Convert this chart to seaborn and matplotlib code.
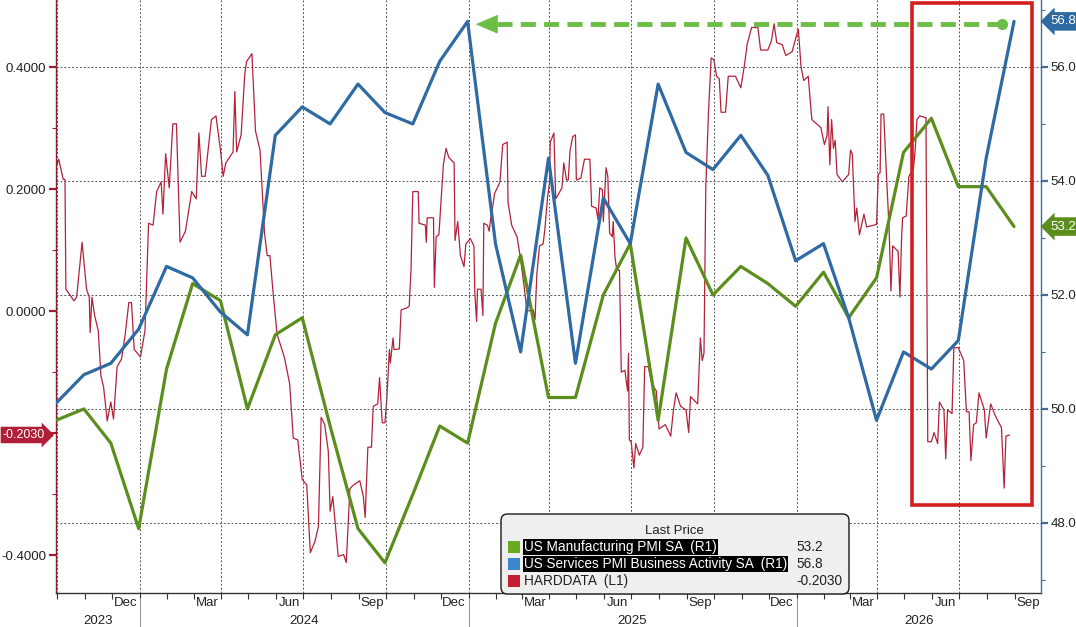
import numpy as np
import pandas as pd
import matplotlib
matplotlib.use("Agg")
import matplotlib.pyplot as plt
import matplotlib.dates as mdates
import matplotlib.transforms as mtransforms
from matplotlib.patches import FancyBboxPatch, Rectangle
import seaborn as sns

# ---------------- data ----------------
pmi_months = pd.date_range("2023-09-30", "2026-08-31", freq="ME")
manufacturing = [49.8, 50.0, 49.4, 47.9, 50.7, 52.2, 51.9, 50.0, 51.3, 51.6, 49.7, 47.9,
                 47.3, 48.5, 49.7, 49.4, 51.5, 52.7, 50.2, 50.2, 52.0, 52.9, 49.8, 53.0,
                 52.0, 52.5, 52.2, 51.8, 52.4, 51.6, 52.3, 54.5, 55.1, 53.9, 53.9, 53.2]
services = [50.1, 50.6, 50.8, 51.4, 52.5, 52.3, 51.7, 51.3, 54.8, 55.3, 55.0, 55.7,
            55.2, 55.0, 56.1, 56.8, 52.9, 51.0, 54.4, 50.8, 53.7, 52.9, 55.7, 54.5,
            54.2, 54.8, 54.1, 52.6, 52.9, 51.6, 49.8, 51.0, 50.7, 51.2, 54.4, 56.8]

hard_dates = [
    "2023-10-01", "2023-10-03", "2023-10-08", "2023-10-10", "2023-10-11", "2023-10-20", "2023-10-23", "2023-10-29",
    "2023-11-03", "2023-11-06", "2023-11-07", "2023-11-09", "2023-11-12", "2023-11-16", "2023-11-19", "2023-11-22",
    "2023-11-26", "2023-11-30", "2023-12-03", "2023-12-07", "2023-12-12", "2023-12-16", "2023-12-20", "2023-12-23",
    "2023-12-26", "2024-01-02", "2024-01-07", "2024-01-11", "2024-01-16", "2024-01-20", "2024-01-25", "2024-01-27",
    "2024-01-30", "2024-02-03", "2024-02-07", "2024-02-11", "2024-02-15", "2024-02-21", "2024-02-28", "2024-03-04",
    "2024-03-07", "2024-03-10", "2024-03-14", "2024-03-21", "2024-03-26", "2024-03-31", "2024-04-03", "2024-04-06",
    "2024-04-14", "2024-04-16", "2024-04-18", "2024-04-23", "2024-04-27", "2024-04-29", "2024-05-05", "2024-05-09",
    "2024-05-14", "2024-05-19", "2024-05-22", "2024-05-25", "2024-05-29", "2024-06-02", "2024-06-10", "2024-06-16",
    "2024-06-20", "2024-06-25", "2024-06-30", "2024-07-05", "2024-07-09", "2024-07-14", "2024-07-18", "2024-07-21",
    "2024-07-25", "2024-07-29", "2024-07-31", "2024-08-03", "2024-08-09", "2024-08-15", "2024-08-18", "2024-08-22",
    "2024-08-26", "2024-09-02", "2024-09-06", "2024-09-08", "2024-09-11", "2024-09-15", "2024-09-17", "2024-09-22",
    "2024-09-24", "2024-09-27", "2024-09-30", "2024-10-02", "2024-10-05", "2024-10-06", "2024-10-09", "2024-10-10",
    "2024-10-16", "2024-10-18", "2024-10-24", "2024-10-27", "2024-10-29", "2024-10-31", "2024-11-06", "2024-11-07",
    "2024-11-14", "2024-11-15", "2024-11-16", "2024-11-23", "2024-11-24", "2024-11-26", "2024-11-29", "2024-11-30",
    "2024-12-04", "2024-12-07", "2024-12-10", "2024-12-16", "2024-12-17", "2024-12-20", "2024-12-23", "2024-12-27",
    "2024-12-29", "2025-01-03", "2025-01-07", "2025-01-08", "2025-01-10", "2025-01-11", "2025-01-15", "2025-01-17",
    "2025-01-18", "2025-01-22", "2025-01-24", "2025-01-26", "2025-01-28", "2025-01-30", "2025-02-02", "2025-02-05",
    "2025-02-08", "2025-02-13", "2025-02-14", "2025-02-18", "2025-02-24", "2025-02-28", "2025-03-04", "2025-03-07",
    "2025-03-14", "2025-03-16", "2025-03-18", "2025-03-21", "2025-03-25", "2025-03-27", "2025-03-30", "2025-04-01",
    "2025-04-02", "2025-04-06", "2025-04-08", "2025-04-15", "2025-04-17", "2025-04-20", "2025-04-22", "2025-04-24",
    "2025-04-27", "2025-04-30", "2025-05-01", "2025-05-06", "2025-05-10", "2025-05-16", "2025-05-18", "2025-05-23",
    "2025-05-25", "2025-05-27", "2025-05-30", "2025-05-31", "2025-06-03", "2025-06-05", "2025-06-07", "2025-06-10",
    "2025-06-11", "2025-06-13", "2025-06-15", "2025-06-18", "2025-06-20", "2025-06-24", "2025-06-27", "2025-06-28",
    "2025-06-29", "2025-07-01", "2025-07-04", "2025-07-06", "2025-07-10", "2025-07-14", "2025-07-16", "2025-07-20",
    "2025-07-24", "2025-07-29", "2025-08-01", "2025-08-08", "2025-08-14", "2025-08-17", "2025-08-20", "2025-08-25",
    "2025-08-31", "2025-09-03", "2025-09-05", "2025-09-13", "2025-09-16", "2025-09-18", "2025-09-20", "2025-09-22",
    "2025-09-25", "2025-09-28", "2025-10-01", "2025-10-04", "2025-10-07", "2025-10-09", "2025-10-14", "2025-10-17",
    "2025-10-25", "2025-10-31", "2025-11-04", "2025-11-07", "2025-11-12", "2025-11-19", "2025-11-22", "2025-11-30",
    "2025-12-04", "2025-12-07", "2025-12-10", "2025-12-16", "2025-12-20", "2025-12-27", "2026-01-01", "2026-01-03",
    "2026-01-06", "2026-01-09", "2026-01-14", "2026-01-18", "2026-01-28", "2026-02-01", "2026-02-04", "2026-02-05",
    "2026-02-07", "2026-02-09", "2026-02-11", "2026-02-13", "2026-02-15", "2026-02-21", "2026-02-28", "2026-03-02",
    "2026-03-04", "2026-03-07", "2026-03-09", "2026-03-12", "2026-03-17", "2026-03-20", "2026-03-31", "2026-04-02",
    "2026-04-04", "2026-04-05", "2026-04-08", "2026-04-11", "2026-04-14", "2026-04-16", "2026-04-18", "2026-04-24",
    "2026-04-26", "2026-04-28", "2026-04-29", "2026-05-03", "2026-05-06", "2026-05-11", "2026-05-13", "2026-05-15",
    "2026-05-18", "2026-05-25", "2026-05-27", "2026-05-31", "2026-06-03", "2026-06-07", "2026-06-09", "2026-06-14",
    "2026-06-16", "2026-06-18", "2026-06-23", "2026-06-25", "2026-06-30", "2026-07-06", "2026-07-09", "2026-07-12",
    "2026-07-14", "2026-07-17", "2026-07-20", "2026-07-23", "2026-07-29", "2026-07-31", "2026-08-05", "2026-08-10",
    "2026-08-17", "2026-08-20", "2026-08-22", "2026-08-26",
]
hard_values = [
    0.240, 0.249, 0.216, 0.216, 0.036, 0.017, 0.023, 0.113,
    0.036, 0.023, -0.035, 0.023, -0.007, -0.032, -0.106, -0.125,
    -0.180, -0.149, -0.177, -0.091, -0.078, -0.038, 0.014, 0.014,
    -0.063, -0.075, -0.032, 0.144, 0.141, 0.196, 0.212, 0.159,
    0.258, 0.202, 0.307, 0.307, 0.113, 0.131, 0.196, 0.184,
    0.292, 0.221, 0.221, 0.314, 0.320, 0.264, 0.221, 0.243,
    0.261, 0.360, 0.261, 0.289, 0.388, 0.409, 0.422, 0.295,
    0.264, 0.128, 0.091, 0.091, 0.023, -0.038, -0.075, -0.119,
    -0.208, -0.211, -0.276, -0.285, -0.396, -0.378, -0.353, -0.174,
    -0.186, -0.230, -0.328, -0.304, -0.402, -0.399, -0.412, -0.291,
    -0.285, -0.278, -0.304, -0.338, -0.223, -0.223, -0.156, -0.152,
    -0.109, -0.183, -0.183, -0.146, -0.063, -0.085, -0.044, -0.063,
    -0.062, 0.002, 0.005, 0.008, 0.067, 0.196, 0.196, 0.144,
    0.141, 0.113, 0.153, 0.153, 0.039, 0.122, 0.125, 0.147,
    0.240, 0.267, 0.252, 0.243, 0.116, 0.147, 0.091, 0.073,
    0.110, 0.119, 0.107, 0.030, -0.017, 0.036, 0.036, -0.007,
    0.144, 0.141, 0.131, 0.156, 0.172, 0.193, 0.202, 0.212,
    0.273, 0.277, 0.178, 0.141, 0.122, 0.085, 0.039, 0.000,
    0.002, -0.014, 0.060, 0.107, 0.110, 0.135, 0.187, 0.209,
    0.277, 0.292, 0.184, 0.202, 0.243, 0.215, 0.215, 0.264,
    0.286, 0.289, 0.215, 0.218, 0.249, 0.249, 0.172, 0.169,
    0.150, 0.202, 0.199, 0.147, 0.235, 0.221, 0.128, 0.122,
    0.147, 0.088, 0.067, 0.067, -0.100, -0.097, -0.131, -0.069,
    -0.211, -0.214, -0.257, -0.217, -0.236, -0.223, -0.091, -0.091,
    -0.119, -0.131, -0.193, -0.186, -0.205, -0.162, -0.134, -0.156,
    -0.162, -0.199, -0.140, -0.152, -0.044, -0.081, -0.069, 0.202,
    0.326, 0.415, 0.412, 0.385, 0.381, 0.326, 0.326, 0.385,
    0.385, 0.366, 0.403, 0.437, 0.465, 0.465, 0.428, 0.428,
    0.443, 0.471, 0.440, 0.437, 0.419, 0.425, 0.452, 0.462,
    0.400, 0.378, 0.385, 0.314, 0.301, 0.273, 0.289, 0.335,
    0.240, 0.314, 0.267, 0.280, 0.224, 0.212, 0.224, 0.264,
    0.258, 0.147, 0.169, 0.125, 0.159, 0.138, 0.142, 0.224,
    0.227, 0.323, 0.323, 0.224, 0.135, 0.033, 0.107, 0.098,
    0.023, 0.125, 0.153, 0.156, 0.221, 0.233, 0.264, 0.314,
    0.320, 0.317, -0.214, -0.214, -0.199, -0.217, -0.149, -0.162,
    -0.242, -0.162, -0.168, -0.060, -0.060, -0.081, -0.165, -0.165,
    -0.245, -0.186, -0.183, -0.134, -0.162, -0.208, -0.152, -0.171,
    -0.191, -0.290, -0.205, -0.203,
]

series_names = ["US Manufacturing PMI SA  (R1)",
                "US Services PMI Business Activity SA  (R1)",
                "HARDDATA  (L1)"]
left_ticks = [-0.4, -0.2, 0.0, 0.2, 0.4]
right_ticks = [48, 50, 52, 54, 56]

# ---------------- style ----------------
GREEN = "#5b8e1d"
BLUE = "#2f6aa3"
RED = "#b3213a"
LEG_GREEN = "#6aaa1f"
LEG_BLUE = "#3a86cf"
LEG_RED = "#c41e33"
ARROW_GREEN = "#6cbd45"
BOX_RED = "#d21f1f"
TXT = "#222222"

sns.set_theme(style="white")
plt.rcParams["font.family"] = ["Liberation Sans", "DejaVu Sans"]

W, H = 1076, 627
fig = plt.figure(figsize=(W / 100, H / 100), dpi=100)
fig.patch.set_facecolor("white")
ax = fig.add_axes([56 / W, 1 - 593 / H, (1041 - 56) / W, 593 / H])
ax.set_facecolor("white")
ax2 = ax.twinx()

hd = pd.to_datetime(hard_dates)
sns.lineplot(x=hd, y=hard_values, ax=ax, color=RED, linewidth=0.9, zorder=3)
sns.lineplot(x=pmi_months, y=manufacturing, ax=ax2, color=GREEN, linewidth=2.3, zorder=4)
sns.lineplot(x=pmi_months, y=services, ax=ax2, color=BLUE, linewidth=2.3, zorder=5)

x0, x1 = pd.Timestamp("2023-09-30"), pd.Timestamp("2026-09-30")
ax.set_xlim(x0, x1)
ax.set_ylim(-0.462, 0.51)
ax2.set_ylim(46.77, 57.175)
for a in (ax, ax2):
    a.set_xlabel("")
    a.set_ylabel("")
    a.grid(False)

# spines
for s in ("top", "right"):
    ax.spines[s].set_visible(False)
for s in ("top", "left", "bottom"):
    ax2.spines[s].set_visible(False)
ax.spines["left"].set_color("#8c1c2c")
ax.spines["left"].set_linewidth(1.0)
ax.spines["bottom"].set_color("#333333")
ax.spines["bottom"].set_linewidth(1.0)
ax2.spines["right"].set_color("#3d6e9e")
ax2.spines["right"].set_linewidth(1.0)

# left axis ticks (the -0.2 label sits under the last-value tag, as in the reference)
ax.set_yticks(left_ticks)
ax.set_yticklabels(["" if abs(v - hard_values[-1]) < 0.02 else f"{v:.4f}" for v in left_ticks])
ax.set_yticks([-0.3, -0.1, 0.1, 0.3], minor=True)
ax.tick_params(axis="y", which="major", left=True, length=5, width=1.6, color="#a01c30",
               labelsize=9.5, labelcolor=TXT, pad=2)
ax.tick_params(axis="y", which="minor", left=True, length=3, width=0.8, color="#a01c30")

# right axis ticks
ax2.set_yticks(right_ticks)
ax2.set_yticklabels([f"{v:.1f}" for v in right_ticks])
ax2.set_yticks([47, 49, 51, 53, 55, 57], minor=True)
ax2.tick_params(axis="y", which="major", right=True, length=5, width=1.6, color="#3d6e9e",
                labelsize=9.5, labelcolor=TXT, pad=2)
ax2.tick_params(axis="y", which="minor", right=True, length=3, width=0.8, color="#3d6e9e")

# x axis: month labels centred in month, ticks at month starts
ax.xaxis.set_major_locator(mdates.MonthLocator(bymonth=[3, 6, 9, 12], bymonthday=16))
ax.xaxis.set_major_formatter(mdates.DateFormatter("%b"))
ax.xaxis.set_minor_locator(mdates.MonthLocator())
ax.tick_params(axis="x", which="major", bottom=True, length=0, labelsize=9.5, labelcolor=TXT, pad=3)
ax.tick_params(axis="x", which="minor", bottom=True, length=4, width=0.8, color="#333333")

# gridlines
ax2.yaxis.grid(True, which="major", linestyle=(0, (2, 2)), color="#555555", linewidth=0.7, zorder=0)
for q in pd.date_range(x0, x1, freq="QS"):
    ax2.axvline(q, linestyle=(0, (2, 2)), color="#555555", linewidth=0.7, zorder=0)

# year row
btrans = mtransforms.blended_transform_factory(ax.transData, ax.transAxes)
years = [2023, 2024, 2025, 2026]
for y in years:
    ys = max(pd.Timestamp(f"{y}-01-01"), x0)
    ye = min(pd.Timestamp(f"{y + 1}-01-01"), x1)
    mid = ys + (ye - ys) / 2
    ax.text(mid, -0.047, str(y), transform=btrans, ha="center", va="center",
            fontsize=9.5, color=TXT, clip_on=False)
    if pd.Timestamp(f"{y}-01-01") > x0:
        ax.plot([ys, ys], [-0.008, -0.06], transform=btrans, color="#999999",
                linewidth=0.8, clip_on=False)

# value tags
rtrans = mtransforms.blended_transform_factory(ax2.transAxes, ax2.transData)
ltrans = mtransforms.blended_transform_factory(ax.transAxes, ax.transData)
ax2.text(1.010, services[-1], f"{services[-1]:.1f}", transform=rtrans, ha="left", va="center",
         fontsize=9.5, color="white", clip_on=False, zorder=20,
         bbox=dict(boxstyle="larrow,pad=0.25", fc=BLUE, ec="none"))
ax2.text(1.010, manufacturing[-1], f"{manufacturing[-1]:.1f}", transform=rtrans, ha="left", va="center",
         fontsize=9.5, color="white", clip_on=False, zorder=20,
         bbox=dict(boxstyle="larrow,pad=0.25", fc=GREEN, ec="none"))
ax.text(-0.011, hard_values[-1], f"{hard_values[-1]:.4f}", transform=ltrans, ha="right", va="center",
        fontsize=9, color="white", clip_on=False, zorder=20,
        bbox=dict(boxstyle="rarrow,pad=0.18", fc="#b01f35", ec="none"))

# dashed arrow from latest services print back to previous peak
peak_idx = int(np.argmax(services[:-1]))
arr_y = services[-1] - 0.05
arr_start = pmi_months[-1] - pd.Timedelta(days=13)
arr_tip = pmi_months[peak_idx] + pd.Timedelta(days=9)
ax2.plot([arr_start, arr_tip + pd.Timedelta(days=20)], [arr_y, arr_y], color=ARROW_GREEN,
         linewidth=3.5, dashes=(3.1, 1.7), solid_capstyle="butt", zorder=8)
ax2.plot([arr_start], [arr_y], marker="o", markersize=7, color=ARROW_GREEN, zorder=8)
ax2.annotate("", xy=(arr_tip, arr_y), xytext=(arr_tip + pd.Timedelta(days=22), arr_y),
             arrowprops=dict(arrowstyle="-|>,head_length=0.75,head_width=0.32", mutation_scale=20,
                             fc=ARROW_GREEN, ec=ARROW_GREEN, lw=0.5, shrinkA=0, shrinkB=0),
             zorder=8)

# red highlight box around the latest months
bx0 = mdates.date2num(pd.Timestamp("2026-05-10"))
bx1 = mdates.date2num(pd.Timestamp("2026-09-20"))
ax2.add_patch(Rectangle((bx0, 48.32), bx1 - bx0, 57.12 - 48.32, fill=False, ec=BOX_RED,
                        linewidth=2.6, zorder=9, clip_on=False))

# legend box (drawn manually, Bloomberg style)
def fx(px):
    return px / W

def fy(py):
    return 1 - py / H

fig.patches.append(FancyBboxPatch((fx(501), fy(594)), fx(849) - fx(501), fy(514) - fy(594),
                                  boxstyle="round,pad=0,rounding_size=0.006",
                                  transform=fig.transFigure, fc="#efefef", ec="#1a1a1a",
                                  linewidth=1.0, zorder=30, mutation_aspect=W / H))
fig.text(fx(674), fy(531), "Last Price", ha="center", va="center", fontsize=9.5, color=TXT, zorder=31)
leg_colors = [LEG_GREEN, LEG_BLUE, LEG_RED]
leg_values = [f"{manufacturing[-1]:.1f}", f"{services[-1]:.1f}", f"{hard_values[-1]:.4f}"]
row_y = [547, 564, 581]
for i, (name, col, val, ry) in enumerate(zip(series_names, leg_colors, leg_values, row_y)):
    fig.patches.append(Rectangle((fx(508), fy(ry + 6)), fx(520) - fx(508), fy(ry - 6) - fy(ry + 6),
                                 transform=fig.transFigure, fc=col, ec="none", zorder=31))
    if i < 2:
        fig.text(fx(524), fy(ry), name, ha="left", va="center", fontsize=9.8, color="white", zorder=32,
                 bbox=dict(boxstyle="square,pad=0.08", fc="black", ec="none"))
    else:
        fig.text(fx(524), fy(ry), name, ha="left", va="center", fontsize=9.8, color=TXT, zorder=32)
    fig.text(fx(796), fy(ry), val, ha="left", va="center", fontsize=9.8, color=TXT, zorder=32)

fig.savefig("out.png", dpi=100, facecolor="white")
